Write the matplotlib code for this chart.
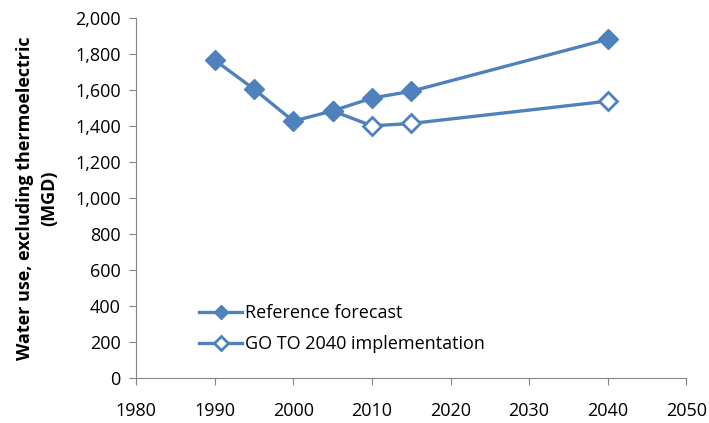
import matplotlib.pyplot as plt
from matplotlib.ticker import FuncFormatter

# Water use forecasts (MGD)
years_ref = [1990, 1995, 2000, 2005, 2010, 2015, 2040]
ref_forecast = [1767, 1606, 1428, 1485, 1556, 1594, 1883]
years_go = [2005, 2010, 2015, 2040]
go_2040 = [1485, 1402, 1415, 1539]

blue = "#4F81BD"
grey = "#868686"
plt.rcParams["font.family"] = ["Open Sans", "DejaVu Sans"]

fig = plt.figure(figsize=(7.09, 4.23), dpi=100)
ax = fig.add_axes([0.192, 0.106, 0.776, 0.851])

ax.plot(years_go, go_2040, color=blue, linewidth=2.4, marker="D",
        markersize=9, markerfacecolor="white", markeredgecolor=blue,
        markeredgewidth=2, label="GO TO 2040 implementation", zorder=2)
ax.plot(years_ref, ref_forecast, color=blue, linewidth=2.4, marker="D",
        markersize=10, markerfacecolor=blue, markeredgecolor=blue,
        label="Reference forecast", zorder=3)

ax.set_xlim(1980, 2050)
ax.set_ylim(0, 2000)
ax.set_xticks(range(1980, 2051, 10))
ax.set_yticks(range(0, 2001, 200))
ax.yaxis.set_major_formatter(FuncFormatter(lambda v, p: f"{int(v):,}"))

for side in ["top", "right"]:
    ax.spines[side].set_visible(False)
for side in ["left", "bottom"]:
    ax.spines[side].set_color(grey)
ax.tick_params(axis="both", colors=grey, labelcolor="black", labelsize=13,
               length=5, direction="out")
ax.tick_params(axis="x", pad=12)
ax.tick_params(axis="y", pad=6)

ax.set_ylabel("Water use, excluding thermoelectric\n(MGD)", fontsize=13,
              fontweight="bold", linespacing=1.45, labelpad=12)

handles, labels = ax.get_legend_handles_labels()
ax.legend(handles[::-1], labels[::-1], loc="lower left",
          bbox_to_anchor=(0.085, 0.025), frameon=False, fontsize=13,
          handlelength=2.4, handletextpad=0.15, labelspacing=0.72,
          markerscale=0.75)

fig.savefig("out.png", dpi=100)
